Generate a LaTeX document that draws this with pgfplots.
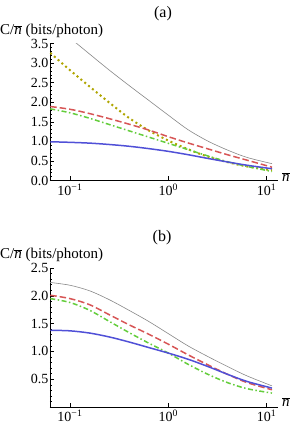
\documentclass[border=0pt]{standalone}
\usepackage{fontspec}
\setmainfont{Liberation Serif}
\usepackage{pgfplots}
\pgfplotsset{compat=1.18}
\definecolor{cblue}{RGB}{80,80,215}
\definecolor{cred}{RGB}{215,85,85}
\definecolor{cgreen}{RGB}{100,205,60}
\definecolor{colive}{RGB}{175,165,0}
\definecolor{cgray}{RGB}{135,135,135}
\pgfplotsset{
  sblue/.style={cblue, line width=1.5pt, smooth},
  sred/.style={cred, line width=1.5pt, smooth, dash pattern=on 6.5pt off 3pt},
  sgreen/.style={cgreen, line width=1.5pt, smooth, dash pattern=on 5pt off 2.5pt on 1.5pt off 2.5pt},
  solive/.style={colive, line width=2pt, smooth, dash pattern=on 2pt off 3pt},
  sgray/.style={cgray, line width=0.6pt, smooth},
}
\begin{document}
\begin{tikzpicture}
\path[use as bounding box] (0,0) rectangle (291pt,-427pt);
% ---------------- (a) ----------------
\begin{semilogxaxis}[scale only axis, width=228.3pt, xmin=0.0627, xmax=13.15,
    axis lines=left, axis line style={-, line width=0.6pt},
    tick align=inside, major tick length=4pt, minor tick length=2.5pt,
    tick style={black, line width=0.5pt},
    xtick={0.1,1,10},
    xticklabels={10\textsuperscript{−1},10\textsuperscript{0},10\textsuperscript{1}},
    xminorticks=false, minor y tick num=4, ymin=0,
    ticklabel style={font=\fontsize{14}{16}\selectfont},
    yticklabel style={inner xsep=1.5pt},
    xticklabel style={inner ysep=3pt},
  height=137pt, at={(50pt,-180.5pt)}, anchor=south west,
  ymax=3.5, ytick={0,0.5,...,3.5},
  yticklabels={0.0,0.5,1.0,1.5,2.0,2.5,3.0,3.5}]
\addplot[sgray] coordinates {(0.1122,3.54) (0.1585,3.23) (0.2512,2.82) (0.3981,2.43) (0.6310,2.05) (1,1.67) (1.5849,1.30) (2.5119,1.01) (3.9811,0.78) (6.3096,0.59) (11.35,0.43)};
\addplot[solive] coordinates {(0.0631,3.26) (0.1,2.82) (0.1585,2.40) (0.2512,1.99) (0.3981,1.60) (0.6310,1.28) (1,1.02) (1.5849,0.80) (2.5119,0.61) (3.9811,0.47) (6.3096,0.36) (11.35,0.26)};
\addplot[sgreen] coordinates {(0.0631,1.83) (0.1,1.73) (0.1585,1.59) (0.2512,1.43) (0.3981,1.27) (0.6310,1.11) (1,0.95) (1.5849,0.79) (2.5119,0.63) (3.9811,0.48) (6.3096,0.36) (11.35,0.23)};
\addplot[sred] coordinates {(0.0631,1.89) (0.1,1.82) (0.1585,1.71) (0.2512,1.58) (0.3981,1.44) (0.6310,1.29) (1,1.12) (1.5849,0.96) (2.5119,0.81) (3.9811,0.66) (6.3096,0.52) (11.35,0.34)};
\addplot[sblue] coordinates {(0.0631,0.99) (0.1,0.975) (0.1585,0.955) (0.2512,0.92) (0.3981,0.875) (0.6310,0.815) (1,0.745) (1.5849,0.66) (2.5119,0.565) (3.9811,0.475) (6.3096,0.39) (11.35,0.30)};
\end{semilogxaxis}
% ---------------- (b) ----------------
\begin{semilogxaxis}[scale only axis, width=228.3pt, xmin=0.0627, xmax=13.15,
    axis lines=left, axis line style={-, line width=0.6pt},
    tick align=inside, major tick length=4pt, minor tick length=2.5pt,
    tick style={black, line width=0.5pt},
    xtick={0.1,1,10},
    xticklabels={10\textsuperscript{−1},10\textsuperscript{0},10\textsuperscript{1}},
    xminorticks=false, minor y tick num=4, ymin=0,
    ticklabel style={font=\fontsize{14}{16}\selectfont},
    yticklabel style={inner xsep=1.5pt},
    xticklabel style={inner ysep=3pt},
  height=139pt, at={(50pt,-407pt)}, anchor=south west,
  ymax=2.5, ytick={0,0.5,...,2.5},
  yticklabels={,0.5,1.0,1.5,2.0,2.5}]
\addplot[sgray] coordinates {(0.0631,2.24) (0.1,2.19) (0.1585,2.09) (0.2512,1.93) (0.3981,1.74) (0.6310,1.54) (1,1.32) (1.5849,1.10) (2.5119,0.91) (3.9811,0.73) (6.3096,0.56) (11.35,0.38)};
\addplot[sgreen] coordinates {(0.0631,1.95) (0.1,1.88) (0.1585,1.74) (0.2512,1.54) (0.3981,1.34) (0.6310,1.15) (1,0.97) (1.5849,0.77) (2.5119,0.59) (3.9811,0.44) (6.3096,0.33) (11.35,0.25)};
\addplot[sred] coordinates {(0.0631,2.01) (0.1,1.95) (0.1585,1.84) (0.2512,1.66) (0.3981,1.48) (0.6310,1.31) (1,1.13) (1.5849,0.94) (2.5119,0.76) (3.9811,0.59) (6.3096,0.44) (11.35,0.31)};
\addplot[sblue] coordinates {(0.0631,1.38) (0.1,1.37) (0.1585,1.33) (0.2512,1.26) (0.3981,1.17) (0.6310,1.07) (1,0.97) (1.5849,0.86) (2.5119,0.73) (3.9811,0.59) (6.3096,0.46) (11.35,0.34)};
\end{semilogxaxis}
% ---------------- labels ----------------
\node[font=\fontsize{16}{18}\selectfont] at (163pt,-14pt) {(a)};
\node[font=\fontsize{16}{18}\selectfont] at (162pt,-237.5pt) {(b)};
\node[anchor=west, inner sep=0pt, font=\fontsize{15}{17}\selectfont] at (0pt,-31pt) {C/$\overline{\textit{n}}$ (bits/photon)};
\node[anchor=west, inner sep=0pt, font=\fontsize{15}{17}\selectfont] at (0pt,-255pt) {C/$\overline{\textit{n}}$ (bits/photon)};
\node[anchor=west, inner sep=0pt, font=\fontsize{15}{17}\selectfont] at (282pt,-177pt) {$\overline{\textit{n}}$};
\node[anchor=west, inner sep=0pt, font=\fontsize{15}{17}\selectfont] at (282pt,-402pt) {$\overline{\textit{n}}$};
\end{tikzpicture}
\end{document}
